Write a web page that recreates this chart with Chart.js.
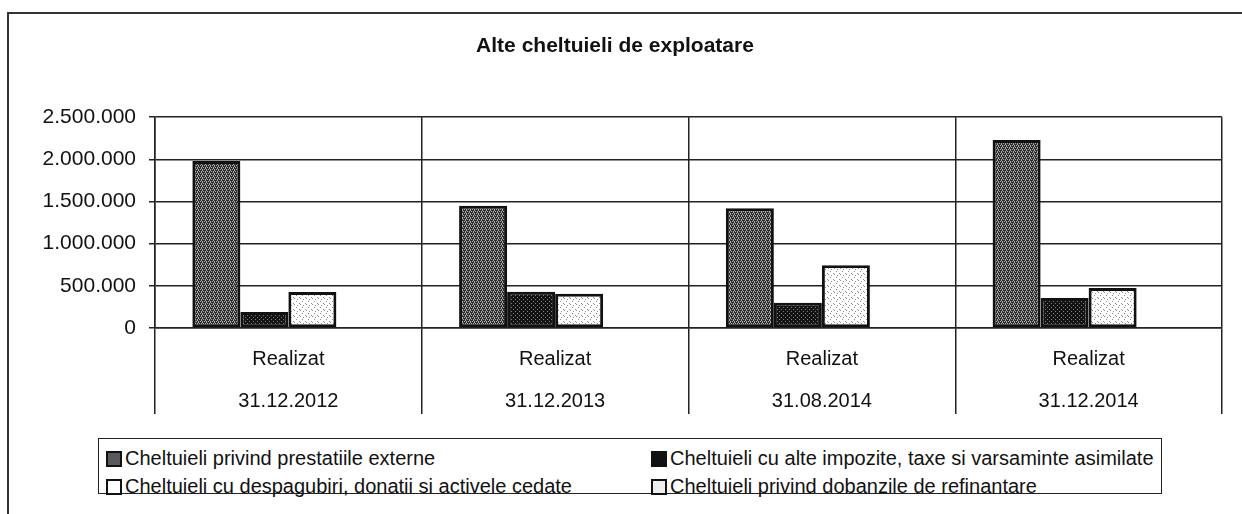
<!DOCTYPE html>
<html>
<head>
<meta charset="utf-8">
<script src="https://cdn.jsdelivr.net/npm/chart.js@4.4.0/dist/chart.umd.min.js"></script>
<style>
  body { margin: 0; background: #fff; font-family: "Liberation Sans", Arial, sans-serif; }
  #wrap { position: relative; width: 1242px; height: 514px; overflow: hidden; }
  #frame { position: absolute; left: 7px; top: 12px; width: 1300px; height: 600px;
           border-left: 2px solid #333; border-top: 2px solid #333; }
  #box { position: absolute; left: 0; top: 0; width: 1242px; height: 430px; }
  #legend { position: absolute; left: 98px; top: 438px; width: 1064px; height: 56px;
            border: 1.5px solid #222; box-sizing: border-box; }
  .item { position: absolute; font-size: 20px; line-height: 22px; color: #111; white-space: nowrap; }
  .icon { position: absolute; top: 4px; width: 12px; height: 12px; border: 2px solid #111; }
  .item span.txt { position: absolute; left: 19px; top: 0; }
</style>
</head>
<body>
<div id="wrap">
  <div id="frame"></div>
  <div id="box"><canvas id="cheltuieliChart"></canvas></div>
  <div id="legend"></div>
</div>
<script>
// date
const statusuri = ['Realizat', 'Realizat', 'Realizat', 'Realizat'];
const perioade = ['31.12.2012', '31.12.2013', '31.08.2014', '31.12.2014'];
const prestatiiExterne = [1980000, 1450000, 1420000, 2230000];
const impoziteTaxe = [190000, 430000, 300000, 356000];
const despagubiri = [428000, 405000, 745000, 475000];
const dobanziRefinantare = [0, 0, 0, 0];
const yTickLabels = ['0', '500.000', '1.000.000', '1.500.000', '2.000.000', '2.500.000'];

// textura de tip "scanat" pentru bare
function makePattern(rows, dark, light) {
    const c = document.createElement('canvas');
    c.width = rows[0].length;
    c.height = rows.length;
    const g = c.getContext('2d');
    for (let y = 0; y < rows.length; y++) {
        for (let x = 0; x < rows[y].length; x++) {
            g.fillStyle = rows[y][x] === '#' ? dark : light;
            g.fillRect(x, y, 1, 1);
        }
    }
    return g.createPattern(c, 'repeat');
}

const patDark = makePattern(['#.##', '.#.#', '##.#', '#.#.'], '#2e2e2e', '#a8a8a8');
const patBlack = makePattern(['####', '#.##', '####', '###.'], '#141414', '#7a7a7a');
const patLight = makePattern(['......', '..#...', '......', '.....#', '#.....', '...#..'], '#8a8a8a', '#ffffff');

const font = '"Liberation Sans", Arial, sans-serif';

const ctx = document.getElementById('cheltuieliChart');
const chart = new Chart(ctx.getContext('2d'), {
    type: 'bar',
    data: {
        labels: statusuri.map((s, i) => [s, perioade[i]]),
        datasets: [
            { label: 'Cheltuieli privind prestatiile externe', data: prestatiiExterne,
              backgroundColor: patDark, borderColor: '#111', borderWidth: 3, iconBg: '#5a5a5a' },
            { label: 'Cheltuieli cu alte impozite, taxe si varsaminte asimilate', data: impoziteTaxe,
              backgroundColor: patBlack, borderColor: '#111', borderWidth: 3, iconBg: '#111' },
            { label: 'Cheltuieli cu despagubiri, donatii si activele cedate', data: despagubiri,
              backgroundColor: patLight, borderColor: '#111', borderWidth: 3, iconBg: '#fff' },
            { label: 'Cheltuieli privind dobanzile de refinantare', data: dobanziRefinantare,
              backgroundColor: '#f4f4f4', borderColor: '#111', borderWidth: 0, iconBg: '#eee' }
        ]
    },
    options: {
        responsive: true,
        maintainAspectRatio: false,
        animation: false,
        layout: { padding: { left: 8, right: 20, top: 0, bottom: 12 } },
        datasets: { bar: { categoryPercentage: 0.72, barPercentage: 1.0, borderSkipped: false } },
        plugins: {
            legend: { display: false },
            tooltip: { enabled: false },
            title: {
                display: true,
                text: 'Alte cheltuieli de exploatare',
                color: '#111',
                font: { family: font, size: 21, weight: 'bold', lineHeight: 1.2 },
                padding: { top: 34, bottom: 58 }
            }
        },
        scales: {
            x: {
                grid: { color: '#222', lineWidth: 1.5, drawTicks: true, tickLength: 86 },
                border: { color: '#222', width: 1.5 },
                ticks: {
                    color: '#111', padding: -76, maxRotation: 0,
                    font: { family: font, size: 20, lineHeight: 2.1 }
                },
                afterFit: function(scale) { scale.height = 90; }
            },
            y: {
                min: 0, max: 2500000,
                grid: { color: '#222', lineWidth: 1.5, drawTicks: true, tickLength: 6 },
                border: { color: '#222', width: 1.5 },
                ticks: {
                    stepSize: 500000, color: '#111', padding: 13,
                    font: { family: font, size: 21 },
                    callback: function(v, i) { return yTickLabels[i]; }
                },
                afterFit: function(scale) { scale.width = 147; }
            }
        }
    }
});

// legenda in doua coloane, ca in Excel
const legend = document.getElementById('legend');
const colX = [7, 552];
const rowY = [8, 36];
chart.data.datasets.forEach(function(ds, i) {
    const item = document.createElement('div');
    item.className = 'item';
    item.style.left = colX[i % 2] + 'px';
    item.style.top = rowY[Math.floor(i / 2)] + 'px';
    const icon = document.createElement('div');
    icon.className = 'icon';
    icon.style.background = ds.iconBg;
    const txt = document.createElement('span');
    txt.className = 'txt';
    txt.textContent = ds.label;
    item.appendChild(icon);
    item.appendChild(txt);
    legend.appendChild(item);
});
</script>
</body>
</html>
